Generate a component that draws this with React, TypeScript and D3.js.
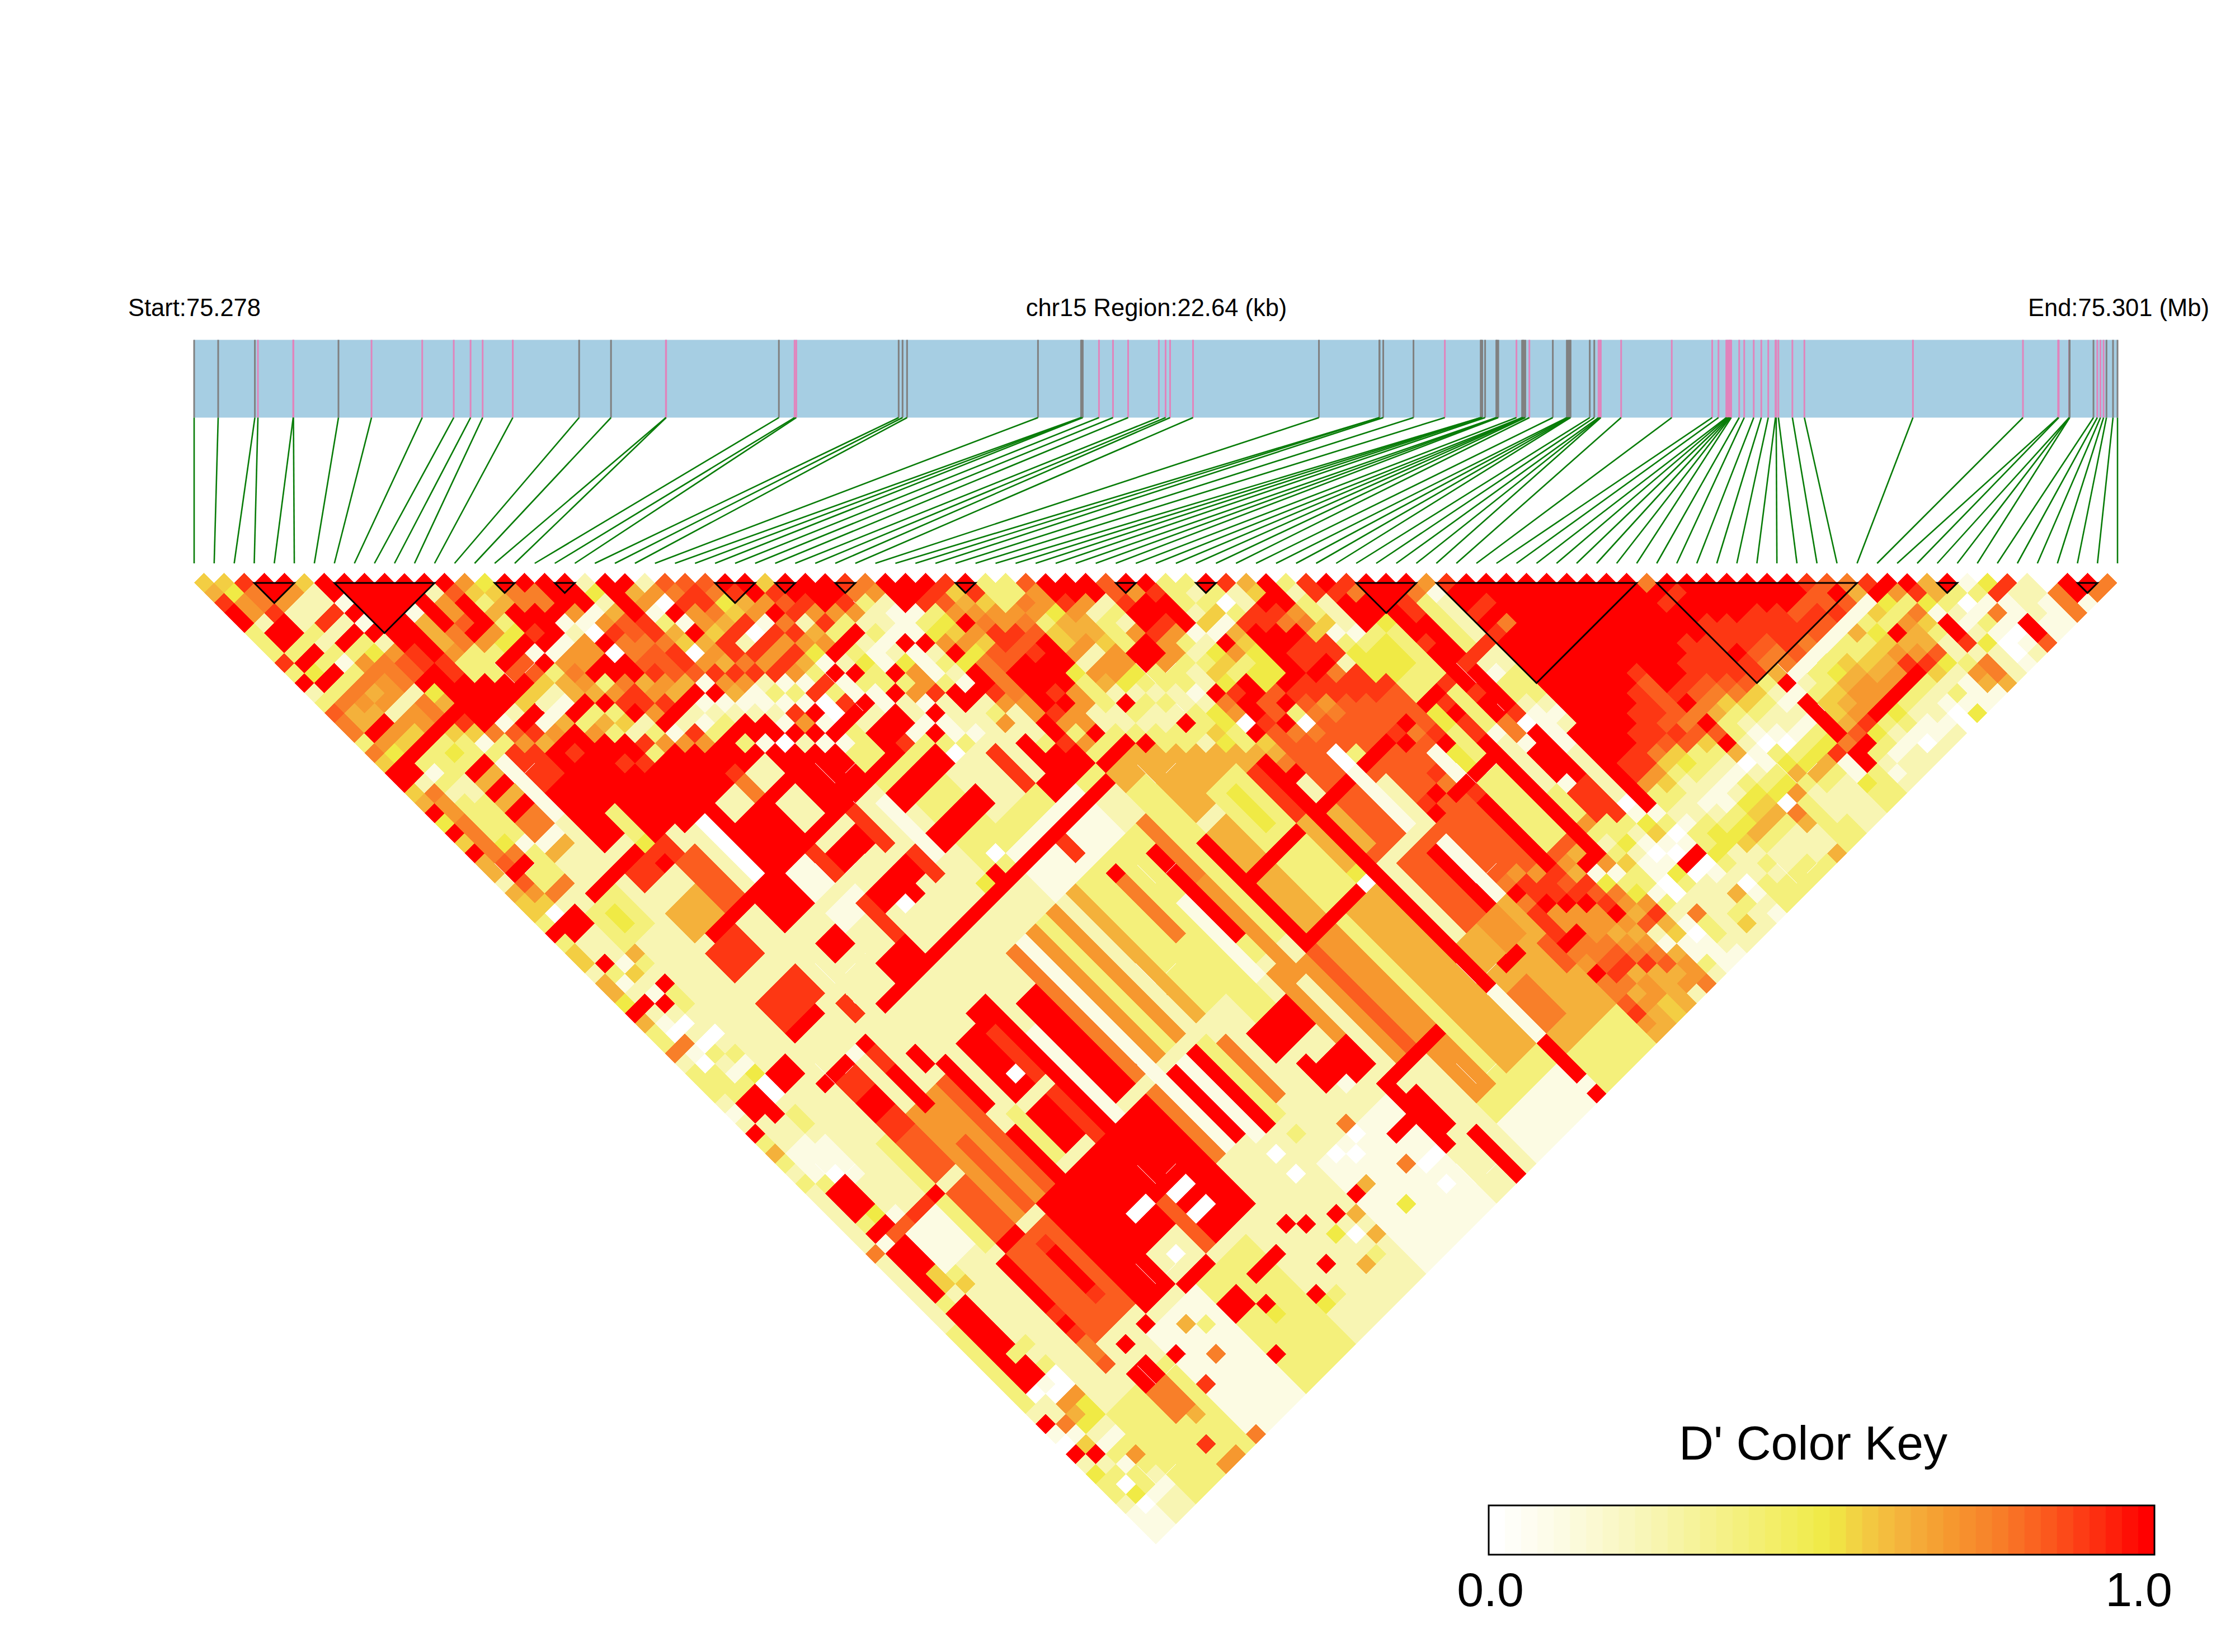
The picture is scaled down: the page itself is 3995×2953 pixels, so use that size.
import React from "react";
import * as d3 from "d3";

// SNP positions along the region, in kb from the region start
const snpKb = [0,.283,.715,.751,1.166,1.169,1.699,2.088,2.685,3.056,3.254,3.396,3.751,4.532,4.907,5.553,5.556,6.883,7.068,7.088,8.293,8.339,8.392,9.933,10.44,10.447,10.46,10.651,10.816,10.994,11.356,11.435,11.488,11.758,13.24,13.951,13.954,13.997,14.353,14.722,15.144,15.15,15.163,15.196,15.328,15.335,15.351,15.565,15.631,15.642,15.651,15.669,15.717,15.993,16.158,16.176,16.191,16.202,16.428,16.481,16.531,16.547,16.558,16.797,17.393,17.869,17.943,18.035,18.048,18.062,18.073,18.081,18.093,18.187,18.246,18.358,18.447,18.529,18.614,18.622,18.648,18.813,18.954,20.232,21.527,21.941,21.948,22.07,22.073,22.077,22.357,22.402,22.439,22.476,22.51,22.587,22.64];
// g = grey tick, p = pink tick
const snpKind = "gggppp gpppppp ggpp gpp gggg gggppp ppp pg ggg gp ggggggg pgggg pg ggggg gpp pppp pppppp pppp pppp pppp pppp ggg pppggggg pg".replace(/ /g,"");
const regionKb = 22.64;
// LD blocks [first SNP, last SNP]
const blocks = [[3,5],[7,12],[15,16],[18,19],[26,28],[29,30],[32,33],[38,39],[46,47],[50,51],[58,61],[62,72],[73,83],[87,88],[94,95]];
// colour key
const keyStops = [0,.1,.24,.38,.51,.56,.63,.7,.77,.84,.91,1];
const keyColors = ["#ffffff","#fcfbe3","#f8f5b3","#f4f07b","#f0ea45","#f3ce43","#f4b13b","#f6982f","#f87f29","#fb5d1f","#fd3713","#ff0000"];
const keySteps = 41;
const keyLabels = ["0.0","1.0"];
// D' by SNP i: one character per pair (i, i+d), d = 1, 2, ...; 0 = white ... b = red (index in keyStops)
const dPrimeNear = [
"56abb333a3 b23988385b b56b4b5b66 26553b3552 664b633823 33212b3632 3222222822 2222233333 3332b10b24 332111",
"54772bb3b4 b3866b74bb 287788889b 9750bb22b3 12b2108103 33bb222111 3bbb3b1bbb bb3bbbbbbb b022815b23 04011",
"a88abb3b3b 38 76b75b31 3233334 8b3 382bb22215 21b2020321 3bbb221110 bbb4b9bbb5 52bbbbb3bb 1076421313 3122",
"bb72232313 8672 75b333 2233331333 8223333632 b332202314 0023321111 2221911113 5222223230 0744213732 122",
"b722a2b378 77277b3433",
"522a2b3488 8288b53382",
"bb1b1b2799 b46ba51312",
"bbbbbbbaab bbbbb83312",
"bbbbbbbbaa bbbb197bbb",
"bbb1666733 bbb2ba6bba",
"bbbbb88333 bb5b17baba",
"b2779b73b9 b5216bbabb",
"b9bbb74b99 521b37bbab",
"7536 34b1b3 66b363bbab",
"456bbab178 76b352a3ba",
"b88bbb177b 37ab237bb9",
"b88b1277bb 8aa7b17abb",
"bbb710b0bb 67ab2a7b2a",
"bbb17a889a 76b213b8ba",
"2426998999 6b123b3aba",
"bbbbaa8aa9 1b12bb1aba",
"b67136507a 7612bb0bbb",
"270b1b676a 71121b2bbb",
"98a775aa8a 231a7b1bbb",
"9aa86a2a7a 131b1b1bb3",
"9845a0a7a7 1a00b330bb",
"ba671a7a63 a3ab2bb1ab",
"bb7b8a741b 11b2bbab3a",
"5a9a267b2b 311bb13ab1",
"bba7a3b343 3b221b32a1",
"bbb73b211b 371b1132ba",
"bba7231247 7a22212ba2",
"a83221b111 3bb2222b73",
"872111b232 1b2372bb73",
"bbb1347b4b ba72223bbb",
"bba3457488 8877bbab37",
"ba97b7599b bbba737bbb",
"a5678aa9bb bab77b3bbb",
"ba577a9abb b77223bbba",
"333789bbb4 333223b323",
"3387355727 62b3233436",
"9774667277 4232233633",
"bba7665774 3232b32437",
"bb72333bb3 3223354377",
"bb2327bb73 3124433 6bb",
"99abba7732 2b870b568b",
"b7bba73235 4abba9987b",
"babbb12453 bb99b89979",
"333251b734 49b308987b",
"3235165444 ba989999b9",
"b303abbbbb aa78999 9b9 8 9ab9898a9 8b8 a aab87b88 9a76 667",
"a22aabbaab aa9999b89b 9b98899997 aab77b889a 86766",
"65ba8baab8 aa999ab99a 8ba999a997 aab77789a6 7755",
"bbb785aa2a aa99b89ba8 baa998897a 9ab77678a6 666",
"323351344 4a9999aba8 baa89889 97 6a9ab76 789 67",
"aa22213444 33b44333b6 73333896b1 48769216 778",
"babbb34443 3babaabbbb 23353 39b71 347a651132",
"a8bb433333 a333312222 2333732353 31321 01111",
"bbbbbbabbb babb881011 1112334211 00 2833 2112",
"bbaabbbbab bbba0bbbbb baaa321014 32222 22",
"b833333a21 3321111222 2201451 0b022 2352",
"712222a223 33212bbbbb bbb1301b01 2632",
"abbabab bbb bbbbbbbbaa 7332 1334 32 0121",
"bbab8bbbbb bbbbbbbaa7 5322344222 333",
"bbbbbbbbbb bbbbbaa853 2212345232 33",
"bbbbbbbbbb bbbaaa9543 2113463223 3",
"bbbbbbbbbb baaa9a9332 1245632233",
"bbbbbbbbba 9999895321 3456322 23",
"bbbbbbbbbb bab8b9b602 34086226",
"bbbbbbbbbb a986332113 4733333",
"bbbbbbbbaa 9853210346 322233",
"bbbbbbaaaa 9853210346 32222",
"8babbbaaaa 9532213463 2222",
"babbaaabaa 3212134a11 433",
"bbbbaaa986 b1bbbb8bb3 33",
"bbbbaa9881 235569b321 2",
"bbbaaaa913 3567a43122",
"bbbaaa8134 677b32122",
"bbb9a91356 77b43102",
"bb9a913356 7b32112",
"a99a163567 b32212",
"9b913457ab 32100",
"86153b67a5 2314",
"ab43766942 111",
"b738532237 61",
"ba41bba288 6",
"6632124222",
"b30131001",
"13181012",
"4a11bb9",
"a22211",
"22111",
"0888",
"bb1",
"b8",
"8",
].map(s => s.replace(/\s/g, ""));
// level of the deeper pairs that are not listed row by row
const deepLevel = 2;
// blocks of equal D': [first i, last i, first j, last j, level]; later ones lie over earlier ones
const dPrimeBlocks = [
[4,9,88,96,3],[10,14,86,96,1],[15,19,86,96,3],[20,26,86,96,2],[27,33,86,96,1],[34,37,86,96,2],[38,44,86,96,1],[38,43,84,92,3],[45,49,82,92,6],[45,46,87,90,8],[47,48,82,84,7],[49,49,86,88,9],[45,49,93,96,3],
[25,36,46,55,3],[28,33,46,52,2],[27,33,55,62,1],[29,36,60,72,3],[36,43,56,62,6],[24,30,40,46,3],
[7,8,25,28,10],[7,8,29,34,11],[9,11,29,32,11],[9,9,33,35,3],[10,11,33,35,11],[7,10,37,38,10],[9,9,38,38,11],[3,5,29,30,8],[4,5,24,24,11],[4,5,25,25,6],[4,5,26,26,11],[4,5,27,27,6],[4,5,28,28,11],[6,6,25,30,1],[4,5,32,33,6],[3,5,31,31,1],[3,5,33,35,2],[3,5,37,40,3],[4,4,38,39,4],[7,9,41,43,6],[10,11,39,43,9],
[12,22,33,43,11],[15,16,38,39,2],[18,19,38,39,2],[17,17,38,39,8],[17,17,37,37,10],[18,19,41,45,2],[14,14,41,42,11],[13,13,38,43,0],[12,12,38,43,2],
[0,11,36,36,11],[9,9,36,36,4],
[15,16,45,47,1],[12,14,45,47,11],[17,17,45,47,10],[18,21,46,47,11],[21,21,45,48,10],[22,23,45,50,2],[24,28,46,47,11],[24,28,50,51,11],[18,21,50,51,11],[7,9,45,47,10],[7,10,50,52,10],[13,14,50,51,11],[15,17,49,50,1],[17,17,50,53,10],[15,17,54,55,11],[19,19,52,52,0],[20,20,52,52,11],[22,22,50,52,10],[23,23,46,51,1],[7,9,53,53,11],[11,11,54,55,10],[38,39,46,48,11],[33,34,50,52,11],[32,35,53,54,11],[31,31,47,52,10],[29,29,47,47,0],
[26,26,54,54,0],[25,25,55,55,11],[25,25,56,56,10],[24,24,55,55,4],
[22,22,60,72,8],[23,23,60,72,1],[24,24,60,72,7],[25,25,60,72,3],[26,26,60,72,7],[27,27,60,72,2],[28,28,60,72,6],[20,21,63,72,11],[17,18,61,65,11],[30,30,57,58,10],[31,31,61,61,11],[31,31,62,68,8],[34,34,62,65,11],[35,35,60,66,8],[36,37,58,63,3],
[8,41,44,44,11],[36,41,55,55,11],[13,35,56,56,11],[0,6,56,56,11],
[38,39,64,73,6],[40,42,62,73,3],[41,41,63,66,4],[43,43,63,67,10],[43,43,68,73,6],[38,39,83,90,7],[40,40,83,90,3],[41,43,83,90,6],[37,37,64,73,11],[46,47,64,67,9],[50,51,64,67,9],[48,48,63,67,0],[49,49,63,67,3],[50,51,69,72,9],[45,47,69,73,9],[45,45,69,72,6],[48,48,68,73,1],[46,49,75,81,9],[49,49,76,81,1],[48,48,76,81,11],[50,52,75,79,9],[53,55,69,73,3],[53,53,69,73,1],[54,54,69,73,4],[53,55,74,74,11],[53,53,76,82,11],[54,55,75,81,3],[56,56,75,84,11],[58,59,75,78,11],[58,59,80,82,10],[57,59,74,74,0],
[38,39,75,82,7],[40,40,75,82,3],[41,43,75,82,6],[37,37,75,84,9],[37,43,74,74,11],[43,43,74,74,0],[43,43,73,73,4],[42,42,68,68,11],[37,41,68,68,11],[45,47,68,68,11],[50,51,68,68,11],[36,36,75,84,7],[35,35,66,75,7],[34,34,66,70,11],[34,34,74,82,7],[33,33,66,73,1],[31,32,68,78,3],
[44,44,63,85,11],[46,47,85,85,11],[34,39,85,85,11],[34,34,86,91,11],[36,36,92,96,11],[44,44,91,94,11],[44,44,96,96,11],[35,35,87,90,11],[32,33,88,88,11],
[3,6,55,67,2],[7,8,62,63,10],[7,8,64,67,9],[6,6,63,68,3],[7,8,69,73,9],[9,9,63,68,7],[10,10,63,66,7],[9,9,69,73,7],[10,10,67,73,9],[11,11,63,73,7],[12,12,63,73,9],[13,13,62,66,11],[13,13,69,73,11],[14,14,68,72,3],[15,16,62,67,11],[16,16,66,66,0],[17,17,63,67,10],[15,16,69,72,11],[17,17,69,73,10],[18,18,66,74,11],[19,19,65,73,1],[4,5,69,72,1],[6,6,69,73,3],[6,6,68,68,11],[4,5,68,68,10],[7,8,74,74,11],
[7,10,75,83,9],[9,9,77,80,11],[9,9,76,76,10],[9,9,81,81,10],[11,21,74,84,11],[22,22,74,80,8],[23,23,69,80,1],[24,24,74,80,11],[25,25,74,81,1],[26,26,74,81,11],[28,28,75,80,8],[27,27,74,81,3],[30,33,76,78,11],[32,34,81,83,11],[31,31,80,82,11],[6,6,75,79,11],[6,6,80,80,10],[6,6,81,81,11],[6,6,82,82,10],[6,6,83,84,8],[6,6,85,85,9],
[18,19,80,80,0],[18,19,82,82,0],[15,16,79,79,0],[17,17,80,84,9],[14,16,82,84,2],[15,15,83,83,0],[14,16,85,85,11],[15,16,88,89,11],[7,8,87,88,11],[7,8,89,91,8],[8,8,85,85,11],[10,10,85,85,11],[10,10,88,88,11],[15,15,93,93,11],[25,25,89,89,11],[27,27,89,89,11],[22,22,87,87,11],[23,23,88,88,11],[22,22,91,91,11],[17,17,90,90,11],[18,20,88,88,11],
[7,8,58,59,10],[7,8,60,61,11],[6,10,57,57,11],[9,9,57,57,1],[10,10,58,59,10],[10,10,60,63,11],[12,12,60,61,11],[4,5,54,55,11],[3,3,53,55,0],
[30,30,86,86,0],[32,32,83,83,1],[30,30,85,85,8],[27,27,83,83,3],[25,25,83,83,0],[25,25,85,85,0],[28,28,86,86,0],[29,29,87,87,0],[31,31,90,90,8],[26,26,90,90,6],[28,28,89,89,6],[29,29,92,92,4],[32,32,91,91,0],[32,32,93,93,0],[33,33,91,91,0],
[26,26,92,92,6],[24,24,93,93,6],[25,25,93,93,3],[24,24,90,90,4],[25,25,91,91,0],[20,20,93,93,4],[21,21,93,93,3],[20,20,92,92,11],[17,17,91,91,4],[13,13,88,88,3],[12,12,87,87,6],[12,12,90,90,8],[10,10,91,91,10],[8,8,92,92,6],[7,8,96,96,7],[10,10,96,96,8],[7,7,94,94,10],
];
const blockMinI = 4, blockMinLag = 18;

const W = 3995, H = 2953;
const nSnp = snpKb.length;
const left = 347, right = 3785;
const half = 17.9;

export default function App() {
  const xGenome = d3.scaleLinear().domain([0, regionKb]).range([left, right]);
  const xIndex = d3.scaleLinear().domain([0, nSnp - 1]).range([left, right]);
  const yLag = d3.scaleLinear().domain([1, nSnp - 1]).range([1042, 2742.5]);
  const color = d3.scaleLinear<string>().domain(keyStops).range(keyColors);
  const cellPath = d3.line();

  const levels: number[][] = dPrimeNear.map((row, i) =>
    d3.range(i + 1, nSnp).map((j, k) => (k < row.length ? parseInt(row[k], 16) : deepLevel)));
  dPrimeBlocks.forEach(([i0, i1, j0, j1, lv]) => {
    for (let i = Math.max(i0, blockMinI); i <= i1 && i < levels.length; i++)
      for (let j = j0; j <= j1 && j < nSnp; j++)
        if (j - i >= blockMinLag) levels[i][j - i - 1] = lv;
  });

  const cells: { key: string; d: string; fill: string }[] = [];
  levels.forEach((row, i) => {
    row.forEach((level, k) => {
      const j = i + k + 1;
      const cx = (xIndex(i) + xIndex(j)) / 2;
      const cy = yLag(j - i);
      cells.push({
        key: `${i}-${j}`,
        fill: color(keyStops[level]) as string,
        d: cellPath([[cx, cy - half], [cx + half, cy], [cx, cy + half], [cx - half, cy]])! + "Z",
      });
    });
  });

  const bandTop = 607.5, bandBottom = 746.5, linkBottom = 1007;
  const keyX = d3.scaleLinear().domain([0, 1]).range([2661, 3851]);
  const keyY0 = 2691, keyY1 = 2779;
  const font = "'Liberation Sans', Arial, sans-serif";

  return (
    <svg width={W} height={H} viewBox={`0 0 ${W} ${H}`} style={{ position: "absolute", left: 0, top: 0, background: "#fff" }} fontFamily={font}>
      <text x={229} y={565} fontSize={43.5}>Start:75.278</text>
      <text x={2067} y={565} fontSize={43.5} textAnchor="middle">chr15 Region:22.64 (kb)</text>
      <text x={3949} y={565} fontSize={43.5} textAnchor="end">End:75.301 (Mb)</text>

      <rect x={left} y={bandTop} width={right - left} height={bandBottom - bandTop} fill="#a6cee3" />
      {snpKb.map((kb, i) => (
        <line key={`t${i}`} x1={xGenome(kb)} x2={xGenome(kb)} y1={bandTop} y2={bandBottom}
          stroke={snpKind[i] === "p" ? "#e184bc" : "#808080"} strokeWidth={3} />
      ))}
      {snpKb.map((kb, i) => (
        <line key={`l${i}`} x1={xGenome(kb)} x2={xIndex(i)} y1={bandBottom} y2={linkBottom}
          stroke="#087c08" strokeWidth={2.6} />
      ))}

      <g shapeRendering="crispEdges">
        {cells.map(c => <path key={c.key} d={c.d} fill={c.fill} />)}
      </g>

      {blocks.map(([a, b]) => (
        <path key={`b${a}`} fill="none" stroke="#000" strokeWidth={3} strokeLinejoin="miter"
          d={cellPath([[xIndex(a), yLag(1)], [xIndex(b), yLag(1)], [(xIndex(a) + xIndex(b)) / 2, yLag(1) + (b - a) * half]])! + "Z"} />
      ))}

      <text x={3241} y={2609} fontSize={86} textAnchor="middle">D' Color Key</text>
      {d3.range(keySteps).map(s => (
        <rect key={`k${s}`} x={keyX(s / keySteps)} y={keyY0} width={keyX(1 / keySteps) - keyX(0) + 0.5} height={keyY1 - keyY0}
          fill={color(s / (keySteps - 1)) as string} />
      ))}
      <rect x={keyX(0)} y={keyY0} width={keyX(1) - keyX(0)} height={keyY1 - keyY0} fill="none" stroke="#000" strokeWidth={3} />
      <text x={2664} y={2871} fontSize={86} textAnchor="middle">{keyLabels[0]}</text>
      <text x={3823} y={2871} fontSize={86} textAnchor="middle">{keyLabels[1]}</text>
    </svg>
  );
}
